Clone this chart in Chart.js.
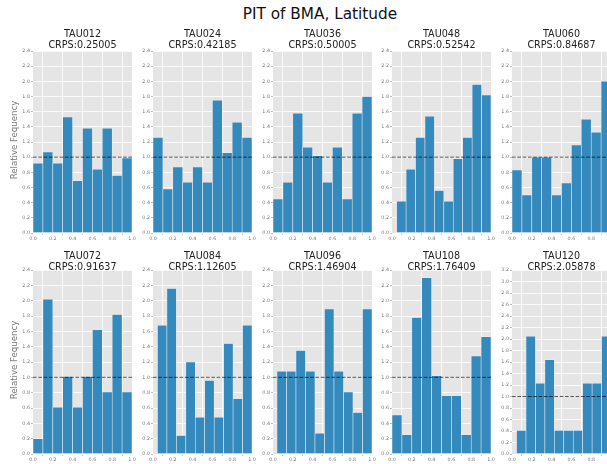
<!DOCTYPE html>
<html>
<head>
<meta charset="utf-8">
<script src="https://cdn.jsdelivr.net/npm/chart.js@4.4.1/dist/chart.umd.min.js"></script>
<style>
  html, body { margin: 0; padding: 0; background: #ffffff; }
  #fig { position: relative; width: 607px; height: 464px; overflow: hidden;
         font-family: "DejaVu Sans", sans-serif; background: #ffffff; }
  #fig canvas { position: absolute; }
  .suptitle { position: absolute; left: 200px; width: 240px; top: 5px; text-align: center;
              font-size: 15.3px; line-height: 18px; color: #111; white-space: nowrap; }
  .ptitle { position: absolute; width: 140px; text-align: center; font-size: 9.6px;
            line-height: 11.5px; color: #222; white-space: nowrap; }
  .ylab { position: absolute; width: 120px; text-align: center; font-size: 8.6px;
          line-height: 10px; color: #777; white-space: nowrap; transform: rotate(-90deg); }
</style>
</head>
<body>
<div id="fig">
  <div class="suptitle">PIT of BMA, Latitude</div>
</div>
<script>
// Forecast lead times and their CRPS scores
const leadTimes = ['TAU012', 'TAU024', 'TAU036', 'TAU048', 'TAU060',
                   'TAU072', 'TAU084', 'TAU096', 'TAU108', 'TAU120'];
const crpsScores = ['0.25005', '0.42185', '0.50005', '0.52542', '0.84687',
                    '0.91637', '1.12605', '1.46904', '1.76409', '2.05878'];

// Lower edge of the first histogram bin (upper edge of the last bin is 1.0)
const binLow = [0, 0, 0, 0.047, 0, 0, 0.045, 0.04, 0, 0.046];

// Upper limit of each panel's frequency axis
const yLimits = [2.4, 2.4, 2.4, 2.4, 2.4, 2.4, 2.4, 2.4, 2.4, 3.2];

// Relative frequency of PIT values, 10 bins per lead time
const freqTAU012 = [0.92, 1.07, 0.92, 1.53, 0.69, 1.38, 0.84, 1.38, 0.76, 0.99];
const freqTAU024 = [1.26, 0.58, 0.87, 0.67, 0.87, 0.67, 1.75, 1.06, 1.46, 1.26];
const freqTAU036 = [0.45, 0.67, 1.58, 1.13, 1.02, 0.67, 1.13, 0.45, 1.58, 1.80];
const freqTAU048 = [0.42, 0.84, 1.26, 1.54, 0.56, 0.42, 0.98, 1.26, 1.96, 1.82];
const freqTAU060 = [0.83, 0.50, 1.00, 1.00, 0.50, 0.66, 1.16, 1.50, 1.33, 2.00];
const freqTAU072 = [0.20, 2.02, 0.61, 1.01, 0.61, 1.01, 1.62, 0.81, 1.82, 0.81];
const freqTAU084 = [1.68, 2.16, 0.24, 1.20, 0.48, 0.96, 0.48, 1.44, 0.72, 1.68];
const freqTAU096 = [1.08, 1.08, 1.35, 1.08, 0.27, 1.89, 1.08, 0.81, 0.54, 1.89];
const freqTAU108 = [0.51, 0.25, 1.78, 2.30, 1.02, 0.76, 0.76, 0.25, 1.28, 1.53];
const freqTAU120 = [0.41, 2.05, 1.23, 1.64, 0.41, 0.41, 0.41, 1.23, 1.23, 2.05];

// Perfectly calibrated reference level
const uniformLevel = 1.0;

const frequencies = [freqTAU012, freqTAU024, freqTAU036, freqTAU048, freqTAU060,
                     freqTAU072, freqTAU084, freqTAU096, freqTAU108, freqTAU120];

// Grid of subplots (2 rows x 5 columns)
const colLeft = [33, 153, 273, 392, 512];
const plotW = 99;
const rowTop = [51, 270];
const rowH = [182, 184];
const yAxisW = 20, xAxisH = 14, padTop = 6, padRight = 8;
const titleTop = [27.5, 249.5];
const yLabelCenter = [140, 360];

const FONT = '"DejaVu Sans", sans-serif';
const fig = document.getElementById('fig');

const plotBackground = {
  id: 'plotBackground',
  beforeDraw(chart) {
    const a = chart.chartArea, ctx = chart.ctx;
    ctx.save();
    ctx.fillStyle = '#E5E5E5';
    ctx.fillRect(a.left, a.top, a.right - a.left, a.bottom - a.top);
    ctx.restore();
  }
};

function binCentres(low, n) {
  const w = (1 - low) / n;
  const out = [];
  for (let i = 0; i < n; i++) out.push(low + w * (i + 0.5));
  return out;
}

leadTimes.forEach((name, k) => {
  const row = Math.floor(k / 5), col = k % 5;
  const values = frequencies[k];
  const centres = binCentres(binLow[k], values.length);
  const bars = values.map((v, i) => ({ x: centres[i], y: v }));

  const canvas = document.createElement('canvas');
  const cw = yAxisW + plotW + padRight;
  const ch = padTop + rowH[row] + xAxisH;
  canvas.width = cw; canvas.height = ch;
  canvas.style.width = cw + 'px'; canvas.style.height = ch + 'px';
  canvas.style.left = (colLeft[col] - yAxisW) + 'px';
  canvas.style.top = (rowTop[row] - padTop) + 'px';
  fig.appendChild(canvas);

  const t = document.createElement('div');
  t.className = 'ptitle';
  t.style.left = (colLeft[col] + plotW / 2 - 70) + 'px';
  t.style.top = titleTop[row] + 'px';
  t.innerHTML = name + '<br>CRPS:' + crpsScores[k];
  fig.appendChild(t);

  if (col === 0) {
    const yl = document.createElement('div');
    yl.className = 'ylab';
    yl.textContent = 'Relative Fequency';
    yl.style.left = (14 - 60) + 'px';
    yl.style.top = (yLabelCenter[row] - 5) + 'px';
    fig.appendChild(yl);
  }

  const tickFont = { family: FONT, size: 4.8 };
  new Chart(canvas, {
    type: 'bar',
    data: {
      datasets: [
        {
          type: 'line',
          data: [{ x: 0, y: uniformLevel }, { x: 1, y: uniformLevel }],
          borderColor: 'rgba(0,0,0,0.65)',
          borderWidth: 1,
          borderDash: [3.7, 1.6],
          pointRadius: 0,
          fill: false,
          order: 0
        },
        {
          type: 'bar',
          data: bars,
          backgroundColor: '#348ABD',
          borderColor: '#EEEEEE',
          borderWidth: 0.6,
          borderSkipped: false,
          barPercentage: 1,
          categoryPercentage: 1,
          order: 1
        }
      ]
    },
    options: {
      responsive: false,
      animation: false,
      devicePixelRatio: 1,
      layout: { padding: { top: padTop, right: padRight, bottom: 0, left: 0 } },
      plugins: { legend: { display: false }, tooltip: { enabled: false }, title: { display: false } },
      scales: {
        x: {
          type: 'linear', min: 0, max: 1, offset: false,
          ticks: { stepSize: 0.2, autoSkip: false, maxRotation: 0, padding: 1,
                   color: '#777', font: tickFont, callback: v => v.toFixed(1) },
          grid: { color: '#FFFFFF', lineWidth: 0.8, tickColor: '#aaa', tickLength: 2 },
          border: { display: false },
          afterFit(s) { s.height = xAxisH; }
        },
        y: {
          type: 'linear', min: 0, max: yLimits[k],
          ticks: { stepSize: 0.2, autoSkip: false, padding: 1,
                   color: '#777', font: tickFont, callback: v => v.toFixed(1) },
          grid: { color: '#FFFFFF', lineWidth: 0.8, tickColor: '#aaa', tickLength: 2 },
          border: { display: false },
          afterFit(s) { s.width = yAxisW; }
        }
      }
    },
    plugins: [plotBackground]
  });
});
</script>
</body>
</html>
